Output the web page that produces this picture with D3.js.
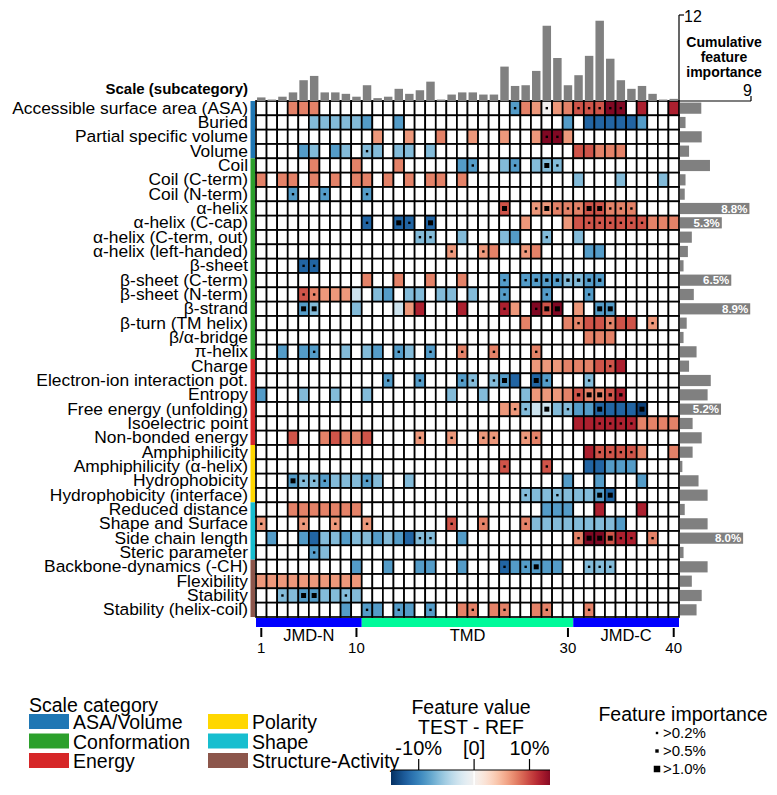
<!DOCTYPE html>
<html>
<head>
<meta charset="utf-8">
<script src="https://cdn.jsdelivr.net/npm/d3@7"></script>
<style>
body { margin: 0; background: #fff; }
text { font-family: "Liberation Sans", Arial, sans-serif; }
</style>
</head>
<body>
<svg id="chart" width="777" height="795"></svg>
<script>
var width = 777,
    height = 795;

// Scale subcategories (heatmap rows, top to bottom)
var subcategories = [
    "Accessible surface area (ASA)", "Buried", "Partial specific volume", "Volume",
    "Coil", "Coil (C-term)", "Coil (N-term)", "α-helix", "α-helix (C-cap)",
    "α-helix (C-term, out)", "α-helix (left-handed)", "β-sheet", "β-sheet (C-term)",
    "β-sheet (N-term)", "β-strand", "β-turn (TM helix)", "β/α-bridge", "π-helix",
    "Charge", "Electron-ion interaction pot.", "Entropy", "Free energy (unfolding)",
    "Isoelectric point", "Non-bonded energy",
    "Amphiphilicity", "Amphiphilicity (α-helix)", "Hydrophobicity", "Hydrophobicity (interface)",
    "Reduced distance", "Shape and Surface", "Side chain length", "Steric parameter",
    "Backbone-dynamics (-CH)", "Flexibility", "Stability", "Stability (helix-coil)"
];

// Scale categories and how many subcategory rows each one spans
var categories = ["ASA/Volume", "Conformation", "Energy", "Polarity", "Shape", "Structure-Activity"];
var categoryRows = [4, 14, 6, 4, 4, 4];
var categoryColors = ["#1f77b4", "#2ca02c", "#d62728", "#ffd700", "#17becf", "#8c564b"];

// Feature value levels (TEST - REF, %)
var levels = { a: -3, b: -6.5, c: -8.5, d: -12, e: -14, o: 0, A: 4, B: 6.5, C: 7.5, D: 9.5, E: 12, F: 14 };

// One string per row: "<position><level><importance>" (importance 1: >0.2%, 2: >0.5%, 3: >1.0%)
var cellRows = [
    "4C 5C 6C 25c1 26C 27B 28o1 29B 30C 31D1 32D1 33D1 34F1 35F1 37E 40E",
    "6b 7b 8b 9b 10b 11c 14c 30c 32d 33d 34d 35d 36d 37c",
    "12B 15B 18C 21B 24B 27B 28F1 29F1 30B",
    "5c 6b 8c 9b 11b1 12b 14b 15b 17b 31D 32D 33C 34C 35C",
    "6C 10C 14C 20c 21c1 24b 25c1 27b 28b3 29b1",
    "1C 3C 4C 6C 8C 10C 11C 13C 15C 17C 18C 20C 31b 35b 39b",
    "4c1 7c1 11c1",
    "24D3 27B1 28B3 29C1 30C1 31C1 32D3 33D3 34C1 35C1 36C1",
    "11d1 14d3 15d1 17d3 26B 30B 31D 32D1 33D1 34D1 35D1 36D1 37D1 38C 39C 40C",
    "16b1 17b1 20b 24b 25c 28b1 31b",
    "19B1 22B1 23C 26B1 27C 32c 33c",
    "5d1 6d1",
    "11C 14C 17C 20C 24c1 26c1 27c2 28c2 29c2 30b2 31b2 32c2 33c2",
    "5D1 6C1 7B 8B 9B 10a 12b 13c 15b 16b 18b 19b 21b 24c1 28c1 32c1",
    "5c3 6b3 10b 14a 15B 16E 20E 24E1 25B 27F1 28D3 29F3 31B 33c3 34c3",
    "26C 30C 31C1 32D 33D 34C1 35D 36D 38B1",
    "32C 33C 34C",
    "3c 5c 6c1 9b 11b 12c 14c1 15b 17c1 20C1 23C1 27C1",
    "27B 28B 29B 30C 31C 32C 33D 34D1 35E",
    "13c1 16c1 20c1 21b1 23b1 24c3 25d 27d3 28c1 32b1",
    "1c 5b 8b 11b 19b 22b 26b 27B 28B 29B 30C 31D2 32C3 33C3 34D2 35E2",
    "24B 25B1 26b1 27a 28a3 29b 30b1 31c 32c 33d3 34d 35d 36d 37e3",
    "31E 32E 33E1 34E1 35E1 36E1 37C 38C 39C 40C",
    "4D 7C 8D 9C 10C 11D 16B1 19B1 22B1 23B1 26B1 27C1",
    "32E 33D1 34D1 35D1 36D1 37C 40C",
    "24D1 28D1 32d 33d 34c 35c 36c",
    "4c3 5b1 6b1 7c1 8b 9b 10b 11c1 12b 15b 30c 33c 37c",
    "26b1 27b 28b 29b1 30b 31b 32b 33c3 34d3",
    "4C 5C 6C 7C 8C 9C 10C 28c 29c 30c 33E 37E",
    "1B1 5B1 8B1 11B1 19D1 22C1 26C1 27b 28b 29b 30b 31b 32b 33b 34b 35c",
    "2c 5c 6d 7b 8b 9c 10b 11b 12c 13b 14c 15d 16b1 17b1 20c 31C1 32F3 33F3 34D3 35E1 36E1 38C1",
    "6c1 7b",
    "10c 13c 16c 17c 20c 24d1 25c 26c1 27c3 28c 29c 32b1 33b1 34b1",
    "1B 2B 3B 4B 5B 6B 7B 8B 9B 10B",
    "3b1 4b 5c3 6c3 7b 8b 9b1 10b",
    "9c 11c1 12c 14c1 15c 17c1 20C 21C1 23C 24C1 27C 28C1 32C1"
];

// Cumulative feature importance per residue position (top bars)
var positionImportance = [0.5, 0.2, 0.6, 1.2, 2.9, 3.5, 1.2, 1.2, 1.0, 0.6,
    2.2, 0.4, 0.6, 1.7, 1.0, 1.5, 2.7, 0.2, 0.9, 1.2,
    1.2, 0.9, 0.9, 4.8, 2.1, 2.2, 4.2, 10.5, 6.0, 2.2,
    3.6, 6.3, 11.2, 5.9, 2.9, 1.7, 2.1, 1.0, 0.2, 0.3];

// Cumulative feature importance per subcategory (right bars, %)
var scaleImportance = [2.7, 0.7, 2.75, 1.15, 3.8, 0.7, 0.6, 8.8, 5.3, 1.5, 1.0, 0.45,
    6.5, 1.75, 8.9, 0.85, 0.45, 2.1, 1.15, 3.9, 3.5, 5.2, 1.6, 2.75,
    1.6, 0.3, 2.35, 3.5, 0.6, 3.5, 8.0, 0.45, 3.5, 1.5, 2.75, 2.1];

// Sequence parts
var parts = ["JMD-N", "TMD", "JMD-C"];
var partStart = [1, 11, 31];
var partEnd = [10, 30, 40];
var partColors = ["#0000ff", "#00fa9a", "#0000ff"];
var positionTicks = [1, 10, 30, 40];

var colorTicks = [-10, 0, 10];
var colorTickLabels = ["-10%", "[0]", "10%"];
var importanceLabels = [">0.2%", ">0.5%", ">1.0%"];
var dotSizes = [0, 2.4, 3.4, 5];

var svg = d3.select("#chart");

var positions = d3.range(1, 41);
var x = d3.scaleBand().domain(positions).range([256, 679]);
var y = d3.scaleBand().domain(d3.range(subcategories.length)).range([101, 617]);
var color = d3.scaleDiverging(d3.interpolateRdBu).domain([15, 0, -15]);
var topY = d3.scaleLinear().domain([0, 12]).range([101, 15]);
var rightX = d3.scaleLinear().domain([0, 9]).range([680, 751]);

// Build cell list from row strings
var cells = [];
cellRows.forEach(function (row, r) {
    var lookup = {};
    row.split(" ").forEach(function (tok) {
        var m = tok.match(/^(\d+)([a-zA-Z])(\d?)$/);
        lookup[+m[1]] = { code: m[2], imp: m[3] ? +m[3] : 0 };
    });
    positions.forEach(function (p) {
        var c = lookup[p];
        cells.push({ row: r, pos: p, value: c ? levels[c.code] : null, imp: c ? c.imp : 0 });
    });
});

// Heatmap cells
svg.append("g")
    .selectAll("rect")
    .data(cells)
    .join("rect")
    .attr("x", function (d) { return x(d.pos); })
    .attr("y", function (d) { return y(d.row); })
    .attr("width", x.bandwidth())
    .attr("height", y.bandwidth())
    .attr("fill", function (d) { return d.value === null ? "#fff" : color(d.value); })
    .attr("stroke", "#000")
    .attr("stroke-width", 1.7);

// Importance markers
svg.append("g")
    .selectAll("rect")
    .data(cells.filter(function (d) { return d.imp > 0; }))
    .join("rect")
    .attr("x", function (d) { return x(d.pos) + x.bandwidth() / 2 - dotSizes[d.imp] / 2; })
    .attr("y", function (d) { return y(d.row) + y.bandwidth() / 2 - dotSizes[d.imp] / 2; })
    .attr("width", function (d) { return dotSizes[d.imp]; })
    .attr("height", function (d) { return dotSizes[d.imp]; })
    .attr("fill", "#000");

// Category bars on the left
var catStart = 0;
categories.forEach(function (c, i) {
    svg.append("rect")
        .attr("x", 250.5)
        .attr("y", y(catStart))
        .attr("width", 4.5)
        .attr("height", categoryRows[i] * y.step())
        .attr("fill", categoryColors[i]);
    catStart += categoryRows[i];
});

// Row labels
svg.append("g")
    .selectAll("text")
    .data(subcategories)
    .join("text")
    .attr("x", 248)
    .attr("y", function (d, i) { return y(i) + y.bandwidth() / 2 + 5.5; })
    .attr("text-anchor", "end")
    .style("font-size", "17.4px")
    .text(function (d) { return d; });

svg.append("text")
    .attr("x", 248).attr("y", 94)
    .attr("text-anchor", "end")
    .style("font-size", "15px").style("font-weight", "bold")
    .text("Scale (subcategory)");

// Top bars: cumulative importance per position
svg.append("g")
    .selectAll("rect")
    .data(positionImportance)
    .join("rect")
    .attr("x", function (d, i) { return x(i + 1) + x.bandwidth() * 0.1; })
    .attr("y", function (d) { return topY(d); })
    .attr("width", x.bandwidth() * 0.8)
    .attr("height", function (d) { return topY(0) - topY(d); })
    .attr("fill", "#808080");

svg.append("line")
    .attr("x1", 679).attr("x2", 679).attr("y1", 15).attr("y2", 101)
    .attr("stroke", "#000").attr("stroke-width", 1.2);
svg.append("line")
    .attr("x1", 679).attr("x2", 684).attr("y1", topY(12)).attr("y2", topY(12))
    .attr("stroke", "#000").attr("stroke-width", 1.2);
svg.append("text")
    .attr("x", 684).attr("y", topY(12) + 7)
    .style("font-size", "16px")
    .text("12");

// Right bars: cumulative importance per subcategory
svg.append("g")
    .selectAll("rect")
    .data(scaleImportance)
    .join("rect")
    .attr("x", rightX(0))
    .attr("y", function (d, i) { return y(i) + y.bandwidth() * 0.11; })
    .attr("width", function (d) { return rightX(d) - rightX(0); })
    .attr("height", y.bandwidth() * 0.78)
    .attr("fill", "#808080");

svg.append("g")
    .selectAll("text")
    .data(scaleImportance.map(function (d, i) { return { v: d, i: i }; }).filter(function (d) { return d.v >= 5; }))
    .join("text")
    .attr("x", function (d) { return rightX(d.v) - 2; })
    .attr("y", function (d) { return y(d.i) + y.bandwidth() / 2 + 4; })
    .attr("text-anchor", "end")
    .attr("fill", "#fff")
    .style("font-size", "11.5px").style("font-weight", "bold")
    .text(function (d) { return d.v.toFixed(1) + "%"; });

svg.append("line")
    .attr("x1", 679).attr("x2", rightX(9)).attr("y1", 101).attr("y2", 101)
    .attr("stroke", "#000").attr("stroke-width", 1.2);
svg.append("line")
    .attr("x1", rightX(9)).attr("x2", rightX(9)).attr("y1", 96).attr("y2", 101)
    .attr("stroke", "#000").attr("stroke-width", 1.2);
svg.append("text")
    .attr("x", rightX(9) + 1).attr("y", 96)
    .attr("text-anchor", "end")
    .style("font-size", "16px")
    .text("9");

svg.append("text")
    .attr("x", 724).attr("y", 47)
    .attr("text-anchor", "middle")
    .style("font-size", "14px").style("font-weight", "bold")
    .selectAll("tspan")
    .data(["Cumulative", "feature", "importance"])
    .join("tspan")
    .attr("x", 724)
    .attr("dy", function (d, i) { return i === 0 ? 0 : 15; })
    .text(function (d) { return d; });

// Sequence parts below heatmap
parts.forEach(function (p, i) {
    var x0 = x(partStart[i]), x1 = x(partEnd[i]) + x.bandwidth();
    svg.append("rect")
        .attr("x", x0).attr("y", 618)
        .attr("width", x1 - x0).attr("height", 9)
        .attr("fill", partColors[i]);
    svg.append("text")
        .attr("x", (x0 + x1) / 2).attr("y", 641)
        .attr("text-anchor", "middle")
        .style("font-size", "16.5px")
        .text(p);
});

svg.append("g")
    .selectAll("line")
    .data(positionTicks)
    .join("line")
    .attr("x1", function (d) { return x(d) + x.bandwidth() / 2; })
    .attr("x2", function (d) { return x(d) + x.bandwidth() / 2; })
    .attr("y1", 628).attr("y2", 637)
    .attr("stroke", "#000").attr("stroke-width", 2);

svg.append("g")
    .selectAll("text")
    .data(positionTicks)
    .join("text")
    .attr("x", function (d) { return x(d) + x.bandwidth() / 2; })
    .attr("y", 653)
    .attr("text-anchor", "middle")
    .style("font-size", "15px")
    .text(function (d) { return d; });

// Legend: scale category
svg.append("text")
    .attr("x", 29).attr("y", 712)
    .style("font-size", "19.5px")
    .text("Scale category");

categories.forEach(function (c, i) {
    var col = Math.floor(i / 3), row = i % 3;
    var lx = col === 0 ? 29 : 208;
    svg.append("rect")
        .attr("x", lx).attr("y", 714 + row * 19.5)
        .attr("width", 40).attr("height", 15)
        .attr("fill", categoryColors[i]);
    svg.append("text")
        .attr("x", lx + 44).attr("y", 729 + row * 19.5)
        .style("font-size", "19.5px")
        .text(c);
});

// Legend: colour bar
var cbX = d3.scaleLinear().domain([-15, 13.7]).range([391, 550]);
var grad = svg.append("defs").append("linearGradient")
    .attr("id", "cbar").attr("x1", "0%").attr("x2", "100%");
d3.range(0, 1.0001, 0.02).forEach(function (t) {
    var v = cbX.invert(391 + t * 159);
    grad.append("stop")
        .attr("offset", (t * 100) + "%")
        .attr("stop-color", color(v));
});
svg.append("rect")
    .attr("x", 391).attr("y", 770)
    .attr("width", 159).attr("height", 15)
    .attr("fill", "url(#cbar)");
svg.append("line")
    .attr("x1", cbX(0)).attr("x2", cbX(0)).attr("y1", 770).attr("y2", 785)
    .attr("stroke", "#fff").attr("stroke-width", 1.5);
svg.append("line")
    .attr("x1", 391).attr("x2", 550).attr("y1", 770).attr("y2", 770)
    .attr("stroke", "#000").attr("stroke-width", 1.2);
svg.append("g")
    .selectAll("line")
    .data(colorTicks)
    .join("line")
    .attr("x1", function (d) { return cbX(d); })
    .attr("x2", function (d) { return cbX(d); })
    .attr("y1", 759).attr("y2", 770)
    .attr("stroke", "#000").attr("stroke-width", 1.2);
svg.append("g")
    .selectAll("text")
    .data(colorTicks)
    .join("text")
    .attr("x", function (d) { return cbX(d); })
    .attr("y", 755)
    .attr("text-anchor", "middle")
    .style("font-size", "20px")
    .text(function (d, i) { return colorTickLabels[i]; });
svg.append("text")
    .attr("x", 471).attr("y", 714)
    .attr("text-anchor", "middle")
    .style("font-size", "19.5px")
    .text("Feature value");
svg.append("text")
    .attr("x", 471).attr("y", 734)
    .attr("text-anchor", "middle")
    .style("font-size", "19.5px")
    .text("TEST - REF");

// Legend: feature importance
svg.append("text")
    .attr("x", 683).attr("y", 721)
    .attr("text-anchor", "middle")
    .style("font-size", "19.5px")
    .text("Feature importance");

importanceLabels.forEach(function (lab, i) {
    var cy = 733 + i * 18;
    var s = dotSizes[i + 1] + (i === 2 ? 1.5 : 0);
    svg.append("rect")
        .attr("x", 657 - s / 2).attr("y", cy - s / 2)
        .attr("width", s).attr("height", s)
        .attr("fill", "#000");
    svg.append("text")
        .attr("x", 663).attr("y", cy + 5)
        .style("font-size", "15px")
        .text(lab);
});
</script>
</body>
</html>
